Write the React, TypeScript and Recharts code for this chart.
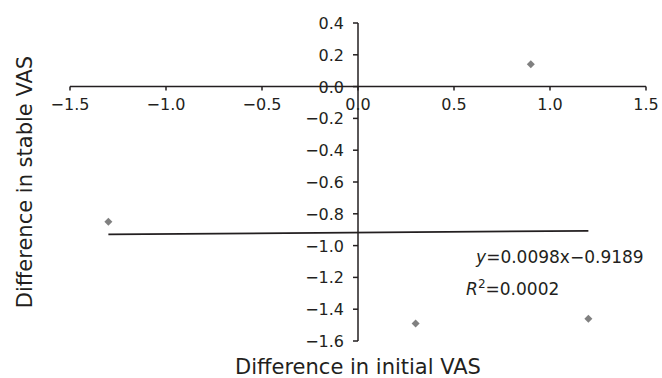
import { ScatterChart, Scatter, XAxis, YAxis, ReferenceLine, ReferenceDot } from 'recharts';

// measured points (difference in initial VAS vs difference in stable VAS)
const initialDiff = [-1.3, 0.3, 0.9, 1.2];
const stableDiff = [-0.85, -1.49, 0.14, -1.46];

const xTicks = [-1.5, -1.0, -0.5, 0.0, 0.5, 1.0, 1.5];
const yTicks = [0.4, 0.2, 0.0, -0.2, -0.4, -0.6, -0.8, -1.0, -1.2, -1.4, -1.6];

// trend line end points
const trendX = [-1.3, 1.2];
const trendY = [-0.93, -0.907];

const points = initialDiff.map((x, i) => ({ x, y: stableDiff[i] }));

const FONT = '"DejaVu Sans", "Noto Sans", sans-serif';
const INK = '#231f20';

const Diamond = (props: any) => {
  const { cx, cy } = props;
  const r = 4;
  return (
    <polygon
      points={`${cx},${cy - r} ${cx + r},${cy} ${cx},${cy + r} ${cx - r},${cy}`}
      fill="#808080"
    />
  );
};

const XTickMark = (label: string) => (props: any) => {
  const { cx, cy } = props;
  return (
    <g>
      <line x1={cx} y1={cy} x2={cx} y2={cy + 4} stroke={INK} strokeWidth={1.5} />
      <text x={cx} y={cy + 23} textAnchor="middle" fontSize={16} fill={INK} fontFamily={FONT}>
        {label}
      </text>
    </g>
  );
};

const YTickMark = (label: string) => (props: any) => {
  const { cx, cy } = props;
  return (
    <g>
      <line x1={cx} y1={cy} x2={cx - 5} y2={cy} stroke={INK} strokeWidth={1.5} />
      <text x={cx - 14} y={cy + 6} textAnchor="end" fontSize={16} fill={INK} fontFamily={FONT}>
        {label}
      </text>
    </g>
  );
};

const fmt = (v: number) => (v < 0 ? '\u2212' : '') + Math.abs(v).toFixed(1);

const Equation = (props: any) => {
  const { cx, cy } = props;
  return (
    <g fontFamily={FONT} fontSize={17} fill={INK}>
      <text x={cx} y={cy} textAnchor="start">
        <tspan fontStyle="italic">y</tspan>=0.0098x{'\u2212'}0.9189
      </text>
      <text x={cx - 10} y={cy + 32} textAnchor="start">
        <tspan fontStyle="italic">R</tspan>
        <tspan dy={-7} fontSize={12}>2</tspan>
        <tspan dy={7}>=0.0002</tspan>
      </text>
    </g>
  );
};

export default function App() {
  return (
    <div style={{ position: 'absolute', left: 0, top: 0, width: 662, height: 378 }}>
      <ScatterChart width={662} height={378} margin={{ top: 23, right: 16, left: 0, bottom: 0 }}>
        <XAxis
          type="number"
          dataKey="x"
          domain={[-1.5, 1.5]}
          ticks={xTicks}
          tick={false}
          axisLine={false}
          tickLine={false}
          height={37}
          label={{
            content: (p: any) => {
              const vb = p.viewBox;
              return (
                <text x={vb.x + vb.width / 2} y={vb.y + 33} textAnchor="middle" fontSize={21} fill={INK} fontFamily={FONT}>
                  Difference in initial VAS
                </text>
              );
            },
          }}
        />
        <YAxis
          type="number"
          dataKey="y"
          domain={[-1.6, 0.4]}
          ticks={yTicks}
          tick={false}
          axisLine={false}
          tickLine={false}
          width={70}
          label={{
            content: (p: any) => {
              const vb = p.viewBox;
              const cx = vb.x + 32;
              const cy = vb.y + vb.height / 2;
              return (
                <text
                  x={cx}
                  y={cy}
                  transform={`rotate(-90 ${cx} ${cy})`}
                  textAnchor="middle"
                  fontSize={21}
                  fill={INK}
                  fontFamily={FONT}
                >
                  Difference in stable VAS
                </text>
              );
            },
          }}
        />
        <ReferenceLine y={0} stroke={INK} strokeWidth={1.5} />
        <ReferenceLine x={0} stroke={INK} strokeWidth={1.5} />
        {xTicks.map((t) => (
          <ReferenceDot key={`xt${t}`} x={t} y={0} r={0} ifOverflow="visible" shape={XTickMark(fmt(t))} />
        ))}
        {yTicks.map((t) => (
          <ReferenceDot key={`yt${t}`} x={0} y={t} r={0} ifOverflow="visible" shape={YTickMark(fmt(t))} />
        ))}
        <ReferenceLine
          segment={[
            { x: trendX[0], y: trendY[0] },
            { x: trendX[1], y: trendY[1] },
          ]}
          stroke={INK}
          strokeWidth={1.8}
        />
        <Scatter data={points} shape={<Diamond />} isAnimationActive={false} />
        <ReferenceDot x={0.615} y={-1.109} r={0} ifOverflow="visible" shape={(p: any) => <Equation cx={p.cx} cy={p.cy} />} />
      </ScatterChart>
    </div>
  );
}
